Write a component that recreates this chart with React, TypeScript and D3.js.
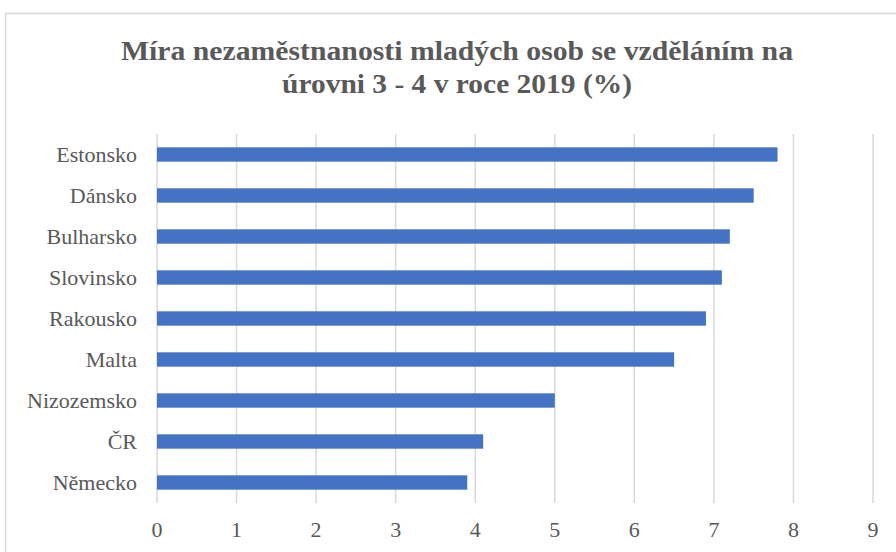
import React, { useRef, useEffect } from 'react';
import * as d3 from 'd3';

const countries = ['Estonsko', 'Dánsko', 'Bulharsko', 'Slovinsko', 'Rakousko', 'Malta', 'Nizozemsko', 'ČR', 'Německo'];
const values = [7.8, 7.5, 7.2, 7.1, 6.9, 6.5, 5.0, 4.1, 3.9];
const xTicks = [0, 1, 2, 3, 4, 5, 6, 7, 8, 9];
const titleLines = ['Míra nezaměstnanosti mladých osob se vzděláním na', 'úrovni 3 - 4 v roce 2019 (%)'];
const titleWidths = [672, 350];

const width = 896;
const height = 552;
const serif = "'Liberation Serif', Tinos, 'Times New Roman', Times, 'DejaVu Serif', serif";

function BarChart() {
  const svgRef = useRef<SVGSVGElement>(null);

  useEffect(() => {
    const svg = d3.select(svgRef.current);
    svg.selectAll('*').remove();

    const margin = { top: 134, right: 23, bottom: 49, left: 157 };
    const innerWidth = width - margin.left - margin.right;
    const innerHeight = height - margin.top - margin.bottom;

    const x = d3.scaleLinear().domain([0, 9]).range([0, innerWidth]);
    const y = d3.scaleBand().domain(countries).range([0, innerHeight]).paddingInner(0.65).paddingOuter(0.325);

    svg.append('rect')
      .attr('x', 0).attr('y', 0).attr('width', width).attr('height', height)
      .attr('fill', '#fff');

    // chart frame
    svg.append('rect')
      .attr('x', 5.5).attr('y', 13.5).attr('width', width + 10).attr('height', height)
      .attr('fill', 'none')
      .attr('stroke', '#d9d9d9')
      .attr('stroke-width', 1.5);

    // title
    const title = svg.append('text')
      .attr('text-anchor', 'middle')
      .style('font-family', serif)
      .attr('font-weight', 'bold')
      .attr('font-size', 27)
      .attr('fill', '#595959');
    titleLines.forEach((line, i) => {
      title.append('tspan')
        .attr('x', 457)
        .attr('y', 60 + i * 33)
        .attr('textLength', titleWidths[i])
        .attr('lengthAdjust', 'spacingAndGlyphs')
        .text(line);
    });

    const g = svg.append('g').attr('transform', `translate(${margin.left},${margin.top})`);

    // gridlines
    g.selectAll('line.grid')
      .data(xTicks)
      .enter()
      .append('line')
      .attr('class', 'grid')
      .attr('x1', d => x(d)).attr('x2', d => x(d))
      .attr('y1', 0).attr('y2', innerHeight)
      .attr('stroke', '#d9d9d9')
      .attr('stroke-width', 1.5);

    // bars
    g.selectAll('rect.bar')
      .data(values)
      .enter()
      .append('rect')
      .attr('class', 'bar')
      .attr('x', x(0))
      .attr('y', (d, i) => y(countries[i]) as number)
      .attr('width', d => x(d) - x(0))
      .attr('height', y.bandwidth())
      .attr('fill', '#4472c4');

    // category labels
    g.selectAll('text.cat')
      .data(countries)
      .enter()
      .append('text')
      .attr('class', 'cat')
      .attr('x', -20)
      .attr('y', d => (y(d) as number) + y.bandwidth() / 2)
      .attr('dy', '0.35em')
      .attr('text-anchor', 'end')
      .style('font-family', serif)
      .attr('font-size', 22)
      .attr('fill', '#595959')
      .text(d => d);

    // x tick labels
    g.selectAll('text.tick')
      .data(xTicks)
      .enter()
      .append('text')
      .attr('class', 'tick')
      .attr('x', d => x(d))
      .attr('y', innerHeight + 34)
      .attr('text-anchor', 'middle')
      .style('font-family', serif)
      .attr('font-size', 22)
      .attr('fill', '#595959')
      .text(d => d);
  }, []);

  return <svg ref={svgRef} width={width} height={height} style={{ display: 'block' }} />;
}

export default function App() {
  return (
    <div style={{ position: 'absolute', left: 0, top: 0 }}>
      <BarChart />
    </div>
  );
}
